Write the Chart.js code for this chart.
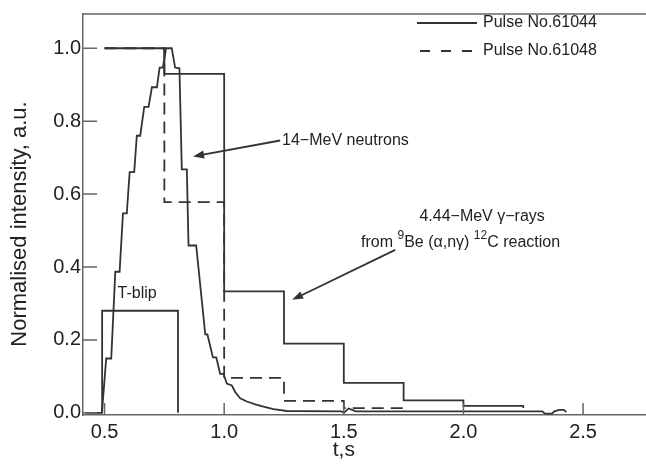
<!DOCTYPE html>
<html>
<head>
<meta charset="utf-8">
<script src="https://cdn.jsdelivr.net/npm/chart.js@4.4.1/dist/chart.umd.min.js"></script>
<style>
    html, body { margin: 0; padding: 0; background: #fff; }
    #wrap { width: 646px; height: 468px; }
</style>
</head>
<body>
<div id="wrap"><canvas id="pulseChart"></canvas></div>
<script>
// tick values
const xTicks = [0.5, 1.0, 1.5, 2.0, 2.5];
const yTicks = [0.0, 0.2, 0.4, 0.6, 0.8, 1.0];

// 14-MeV neutron trace, pulse 61044
const neutronT = [0.42, 0.489, 0.507, 0.528, 0.545, 0.563, 0.577, 0.593, 0.605, 0.624,
    0.635, 0.649, 0.666, 0.684, 0.698, 0.719, 0.730, 0.744, 0.757, 0.781,
    0.795, 0.813, 0.823, 0.844, 0.851, 0.883, 0.921, 0.930, 0.953, 0.967,
    0.983, 0.997, 1.011, 1.032, 1.046, 1.067, 1.095, 1.13, 1.164, 1.206,
    1.262, 1.49, 1.50, 1.52, 1.55, 2.33, 2.34, 2.37, 2.38, 2.40,
    2.42, 2.43];
const neutronY = [0, 0, 0.149, 0.149, 0.387, 0.387, 0.547, 0.547, 0.66, 0.66,
    0.76, 0.76, 0.839, 0.839, 0.893, 0.893, 0.947, 0.947, 1.0, 1.0,
    0.947, 0.945, 0.668, 0.668, 0.459, 0.459, 0.215, 0.215, 0.152, 0.152,
    0.107, 0.107, 0.080, 0.075, 0.057, 0.040, 0.031, 0.023, 0.017, 0.010,
    0.005, 0.004, 0.0, 0.012, 0.004, 0.004, -0.002, -0.002, 0.004, 0.008,
    0.008, 0.002];

// 4.44-MeV gamma-ray bins (left edges) and values
const gammaEdges61044 = [0.5, 0.75, 1.0, 1.25, 1.5, 1.75, 2.0, 2.25];
const gamma61044 = [1.0, 0.93, 0.333, 0.19, 0.082, 0.034, 0.019, 0.013];
const gammaEdges61048 = [0.5, 0.75, 1.0, 1.25, 1.5, 1.75];
const gamma61048 = [1.0, 0.578, 0.096, 0.033, 0.013, 0.005];

// T-blip gate
const tblipT = [0.49, 0.49, 0.807, 0.807];
const tblipY = [0, 0.28, 0.28, 0];

const legendLabels = ["Pulse No.61044", "Pulse No.61048"];

const ink = "#333";
const textInk = "#222";
const frame = "#666";
const fontFam = "'Liberation Sans', Arial, Helvetica, sans-serif";
const dash = [12, 7];

function pts(xs, ys) {
    return xs.map((v, i) => ({ x: v, y: ys[i] }));
}

function arrow(ctx, x1, y1, x2, y2) {
    const ang = Math.atan2(y2 - y1, x2 - x1);
    const len = 11, half = 4;
    ctx.beginPath();
    ctx.moveTo(x1, y1);
    ctx.lineTo(x2 - Math.cos(ang) * len * 0.8, y2 - Math.sin(ang) * len * 0.8);
    ctx.stroke();
    ctx.beginPath();
    ctx.moveTo(x2, y2);
    ctx.lineTo(x2 - Math.cos(ang) * len - Math.sin(ang) * half, y2 - Math.sin(ang) * len + Math.cos(ang) * half);
    ctx.lineTo(x2 - Math.cos(ang) * len + Math.sin(ang) * half, y2 - Math.sin(ang) * len - Math.cos(ang) * half);
    ctx.closePath();
    ctx.fill();
}

const decorations = {
    id: "decorations",
    afterDatasetsDraw(chart) {
        const { ctx, chartArea: a, scales: { x, y } } = chart;
        ctx.save();

        // frame top + inward ticks
        ctx.strokeStyle = frame;
        ctx.lineWidth = 1.5;
        ctx.beginPath();
        ctx.moveTo(a.left, a.top);
        ctx.lineTo(a.right, a.top);
        yTicks.forEach(v => {
            const py = y.getPixelForValue(v);
            ctx.moveTo(a.left, py);
            ctx.lineTo(a.left + 14, py);
        });
        xTicks.forEach(v => {
            const px = x.getPixelForValue(v);
            ctx.moveTo(px, a.bottom);
            ctx.lineTo(px, a.bottom - 12);
        });
        ctx.stroke();

        // legend
        ctx.strokeStyle = ink;
        ctx.lineWidth = 1.8;
        ctx.beginPath();
        ctx.moveTo(417, 23);
        ctx.lineTo(477, 23);
        ctx.stroke();
        ctx.setLineDash([10, 11]);
        ctx.beginPath();
        ctx.moveTo(420, 51);
        ctx.lineTo(477, 51);
        ctx.stroke();
        ctx.setLineDash([]);
        ctx.fillStyle = textInk;
        ctx.font = "16px " + fontFam;
        ctx.textAlign = "left";
        ctx.textBaseline = "middle";
        ctx.fillText(legendLabels[0], 483, 23);
        ctx.fillText(legendLabels[1], 483, 51);

        // annotations
        ctx.fillText("14\u2212MeV neutrons", x.getPixelForValue(1.242), y.getPixelForValue(0.747));
        ctx.textAlign = "center";
        ctx.fillText("T-blip", x.getPixelForValue(0.636), y.getPixelForValue(0.326));
        ctx.fillText("4.44\u2212MeV \u03b3\u2212rays", x.getPixelForValue(2.078), y.getPixelForValue(0.539));

        const parts = [["from ", 16, 0], ["9", 12, -7], ["Be (\u03b1,n\u03b3) ", 16, 0], ["12", 12, -7], ["C reaction", 16, 0]];
        let total = 0;
        parts.forEach(p => { ctx.font = p[1] + "px " + fontFam; total += ctx.measureText(p[0]).width; });
        let cx = x.getPixelForValue(1.988) - total / 2;
        const cy = y.getPixelForValue(0.466);
        ctx.textAlign = "left";
        parts.forEach(p => {
            ctx.font = p[1] + "px " + fontFam;
            ctx.fillText(p[0], cx, cy + p[2]);
            cx += ctx.measureText(p[0]).width;
        });

        ctx.fillStyle = ink;
        ctx.strokeStyle = ink;
        ctx.lineWidth = 1.8;
        arrow(ctx, x.getPixelForValue(1.234), y.getPixelForValue(0.747), x.getPixelForValue(0.870), y.getPixelForValue(0.703));
        arrow(ctx, x.getPixelForValue(1.715), y.getPixelForValue(0.447), x.getPixelForValue(1.284), y.getPixelForValue(0.31));

        // axis titles
        ctx.fillStyle = textInk;
        ctx.font = "21px " + fontFam;
        ctx.textAlign = "center";
        ctx.textBaseline = "middle";
        ctx.fillText("t,s", x.getPixelForValue(1.5), 450);
        ctx.save();
        ctx.translate(20, 224);
        ctx.rotate(-Math.PI / 2);
        ctx.font = "22px " + fontFam;
        ctx.fillText("Normalised intensity, a.u.", 0, 0);
        ctx.restore();

        ctx.restore();
    }
};

document.addEventListener("DOMContentLoaded", function () {
    let ctx = document.getElementById("pulseChart").getContext("2d");

    const lineStyle = { borderColor: ink, borderWidth: 1.8, pointRadius: 0, fill: false, tension: 0 };

    new Chart(ctx, {
        type: "line",
        data: {
            datasets: [
                Object.assign({ label: "gamma 61048", data: pts(gammaEdges61048, gamma61048), stepped: "before", borderDash: dash }, lineStyle),
                Object.assign({ label: "gamma 61044", data: pts(gammaEdges61044, gamma61044), stepped: "before" }, lineStyle),
                Object.assign({ label: "T-blip", data: pts(tblipT, tblipY) }, lineStyle),
                Object.assign({ label: "neutrons 61044", data: pts(neutronT, neutronY) }, lineStyle)
            ]
        },
        options: {
            responsive: true,
            maintainAspectRatio: false,
            animation: false,
            layout: { padding: { top: 7, right: 0, left: 0, bottom: 0 } },
            plugins: {
                legend: { display: false },
                tooltip: { enabled: false }
            },
            scales: {
                x: {
                    type: "linear",
                    min: 0.41,
                    max: 2.763,
                    afterFit: s => { s.height = 53; },
                    afterBuildTicks: s => { s.ticks = xTicks.map(v => ({ value: v })); },
                    grid: { display: false, drawTicks: false },
                    border: { display: true, color: frame, width: 1.5 },
                    ticks: {
                        padding: 5,
                        color: textInk,
                        font: { family: fontFam, size: 20 },
                        callback: v => v.toFixed(1)
                    }
                },
                y: {
                    type: "linear",
                    min: -0.006,
                    max: 1.094,
                    afterFit: s => { s.width = 83; },
                    afterBuildTicks: s => { s.ticks = yTicks.map(v => ({ value: v })); },
                    grid: { display: false, drawTicks: false },
                    border: { display: true, color: frame, width: 1.5 },
                    ticks: {
                        padding: 2,
                        color: textInk,
                        font: { family: fontFam, size: 20 },
                        callback: v => v.toFixed(1)
                    }
                }
            }
        },
        plugins: [decorations]
    });
});
</script>
</body>
</html>
